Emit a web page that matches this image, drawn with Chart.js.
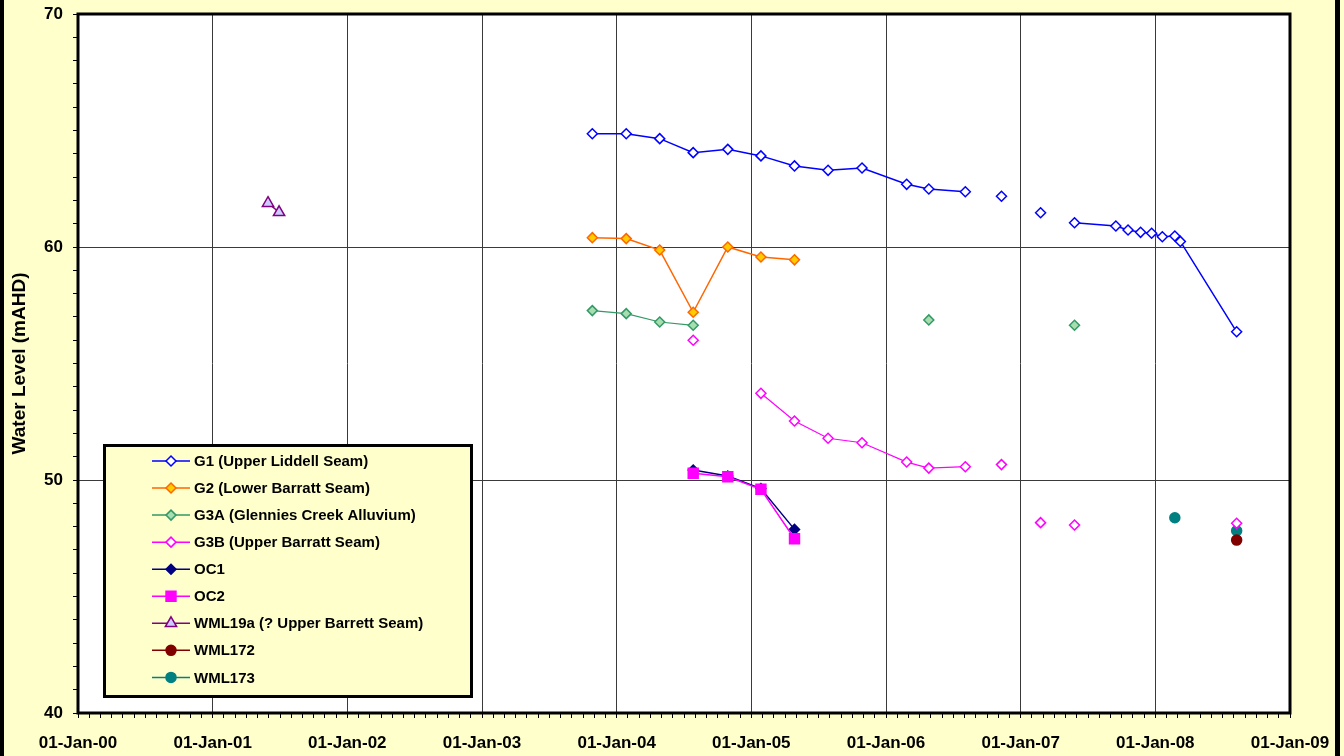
<!DOCTYPE html>
<html>
<head>
<meta charset="utf-8">
<script src="https://cdn.jsdelivr.net/npm/chart.js@4.4.0/dist/chart.umd.min.js"></script>
<style>
  html, body { margin: 0; padding: 0; background: #FFFFCC; }
  #wrap { width: 1344px; height: 756px; position: relative; }
</style>
</head>
<body>
<div id="wrap"><canvas id="levelChart" width="1344" height="756"></canvas></div>
<script>
// sample dates (null = break in the line) and water levels, mAHD
const g1Dates = ['2003-10-27', '2004-01-27', '2004-04-27', '2004-07-27', '2004-10-29', '2005-01-27',
    '2005-04-28', '2005-07-28', '2005-10-28', '2006-02-26', '2006-04-27', '2006-08-04', null,
    '2006-11-10', null, '2007-02-24', null, '2007-05-27', '2007-09-16', '2007-10-19', '2007-11-22',
    '2007-12-22', '2008-01-20', '2008-02-23', '2008-03-09', '2008-08-09'];
const g1Levels = [64.86, 64.86, 64.65, 64.05, 64.19, 63.91, 63.48, 63.29, 63.39, 62.69, 62.49, 62.37, null,
    62.18, null, 61.47, null, 61.04, 60.90, 60.73, 60.63, 60.59, 60.44, 60.47, 60.24, 56.36];

const g2Dates = ['2003-10-27', '2004-01-27', '2004-04-27', '2004-07-27', '2004-10-29', '2005-01-27', '2005-04-28'];
const g2Levels = [60.40, 60.36, 59.87, 57.20, 60.00, 59.57, 59.45];

const g3aDates = ['2003-10-27', '2004-01-27', '2004-04-27', '2004-07-27', null, '2006-04-27', null, '2007-05-27'];
const g3aLevels = [57.27, 57.14, 56.78, 56.64, null, 56.87, null, 56.64];

const g3bDates = ['2004-07-27', null, '2005-01-27', '2005-04-28', '2005-07-28', '2005-10-28', '2006-02-26',
    '2006-04-27', '2006-08-04', null, '2006-11-10', null, '2007-02-24', null, '2007-05-27', null, '2008-08-09'];
const g3bLevels = [56.00, null, 53.72, 52.53, 51.79, 51.60, 50.77, 50.51, 50.57, null, 50.66, null, 48.17,
    null, 48.07, null, 48.14];

const oc1Dates = ['2004-07-27', '2004-10-29', '2005-01-27', '2005-04-28'];
const oc1Levels = [50.43, 50.17, 49.63, 47.88];

const oc2Dates = ['2004-07-27', '2004-10-29', '2005-01-27', '2005-04-28'];
const oc2Levels = [50.29, 50.14, 49.60, 47.48];

const wml19aDates = ['2001-05-31', '2001-06-30'];
const wml19aLevels = [61.88, 61.49];

const wml172Dates = ['2008-08-09'];
const wml172Levels = [47.42];

const wml173Dates = ['2008-02-23', null, '2008-08-09'];
const wml173Levels = [48.38, null, 47.82];

const yearTicks = [2000, 2001, 2002, 2003, 2004, 2005, 2006, 2007, 2008, 2009];
const levelTicks = [40, 50, 60, 70];

const FONT = "'Liberation Sans', Arial, sans-serif";
Chart.defaults.font.family = FONT;
Chart.defaults.color = '#000';

// date string -> decimal year
function toYear(d) {
    if (d === null) return null;
    const [y, m, day] = d.split('-').map(Number);
    const start = Date.UTC(y, 0, 1), end = Date.UTC(y + 1, 0, 1);
    return y + (Date.UTC(y, m - 1, day) - start) / (end - start);
}
function points(dates, levels) {
    return dates.map((d, i) => ({ x: toYear(d), y: levels[i] }));
}

function series(label, dates, levels, colour, fill, style, radius, extra) {
    return Object.assign({
        label: label,
        data: points(dates, levels),
        borderColor: colour,
        backgroundColor: fill,
        borderWidth: 1.5,
        pointStyle: style,
        pointRadius: radius,
        pointBorderWidth: 1.5,
        pointBorderColor: colour,
        pointBackgroundColor: fill,
        spanGaps: false,
        tension: 0
    }, extra || {});
}

// monthly minor ticks on x, unit minor ticks on y
const monthTicks = [];
for (let i = 0; i <= (yearTicks[yearTicks.length - 1] - yearTicks[0]) * 12; i++) {
    monthTicks.push(yearTicks[0] + i / 12);
}
const unitTicks = [];
for (let v = levelTicks[0]; v <= levelTicks[levelTicks.length - 1]; v++) unitTicks.push(v);

const isYear = v => Math.abs(v - Math.round(v)) < 1e-6 && yearTicks.includes(Math.round(v));
const isLevel = v => levelTicks.includes(Math.round(v)) && Math.abs(v - Math.round(v)) < 1e-6;

const gridColour = '#3a3a3a';

const framePlugin = {
    id: 'frame',
    beforeDraw(chart) {
        const ctx = chart.ctx, a = chart.chartArea;
        ctx.save();
        ctx.fillStyle = '#FFFFCC';
        ctx.fillRect(0, 0, chart.width, chart.height);
        ctx.fillStyle = '#FFFFFF';
        ctx.fillRect(a.left, a.top, a.right - a.left, a.bottom - a.top);
        ctx.restore();
    },
    afterDraw(chart) {
        const ctx = chart.ctx, a = chart.chartArea;
        ctx.save();
        ctx.strokeStyle = '#000';
        ctx.lineWidth = 3;
        ctx.strokeRect(a.left, a.top, a.right - a.left, a.bottom - a.top);
        ctx.fillStyle = '#000';
        ctx.fillRect(0, 0, 4, chart.height);
        ctx.fillRect(1335, 0, 5, chart.height);

        // legend box
        const box = { x: 104.5, y: 445.5, w: 367, h: 251 };
        ctx.fillStyle = '#FFFFCC';
        ctx.fillRect(box.x, box.y, box.w, box.h);
        ctx.lineWidth = 3;
        ctx.strokeRect(box.x, box.y, box.w, box.h);

        chart.data.datasets.forEach((ds, i) => {
            const y = 461 + i * 27.05;
            ctx.strokeStyle = ds.borderColor;
            ctx.lineWidth = 1.5;
            ctx.beginPath();
            ctx.moveTo(152, y);
            ctx.lineTo(190, y);
            ctx.stroke();
            ctx.fillStyle = ds.pointBackgroundColor;
            ctx.strokeStyle = ds.pointBorderColor;
            ctx.lineWidth = ds.pointBorderWidth;
            Chart.helpers.drawPoint(ctx, {
                pointStyle: ds.pointStyle, radius: ds.pointRadius, rotation: 0,
                borderWidth: ds.pointBorderWidth
            }, 171, y);
            ctx.fillStyle = '#000';
            ctx.font = 'bold 15px ' + FONT;
            ctx.textBaseline = 'middle';
            ctx.textAlign = 'left';
            ctx.fillText(ds.label, 194, y + 1);
        });
        ctx.restore();
    }
};

new Chart(document.getElementById('levelChart').getContext('2d'), {
    type: 'line',
    data: {
        datasets: [
            series('G1 (Upper Liddell Seam)', g1Dates, g1Levels, '#0000FF', '#FFFFFF', 'rectRot', 5),
            series('G2 (Lower Barratt Seam)', g2Dates, g2Levels, '#FF6600', '#FFCC00', 'rectRot', 5),
            series('G3A (Glennies Creek Alluvium)', g3aDates, g3aLevels, '#339966', '#A8DDB0', 'rectRot', 5, { borderWidth: 1.2 }),
            series('G3B (Upper Barratt Seam)', g3bDates, g3bLevels, '#FF00FF', '#FFFFFF', 'rectRot', 5, { borderWidth: 1.2 }),
            series('OC1', oc1Dates, oc1Levels, '#000080', '#000080', 'rectRot', 5, { order: 1 }),
            series('OC2', oc2Dates, oc2Levels, '#FF00FF', '#FF00FF', 'rect', 7),
            series('WML19a (? Upper Barrett Seam)', wml19aDates, wml19aLevels, '#800080', '#CCCCFF', 'triangle', 6.5),
            series('WML172', wml172Dates, wml172Levels, '#800000', '#800000', 'circle', 5),
            series('WML173', wml173Dates, wml173Levels, '#008080', '#008080', 'circle', 5)
        ]
    },
    options: {
        responsive: false,
        animation: false,
        layout: { padding: { left: 0, top: 14, right: 54, bottom: 0 } },
        plugins: {
            legend: { display: false },
            tooltip: { enabled: false }
        },
        scales: {
            x: {
                type: 'linear',
                min: yearTicks[0],
                max: yearTicks[yearTicks.length - 1],
                afterBuildTicks: s => { s.ticks = monthTicks.map(v => ({ value: v })); },
                afterFit: s => { s.height = 43; s.paddingLeft = 0; s.paddingRight = 0; },
                border: { display: false },
                grid: {
                    color: c => (c.tick && isYear(c.tick.value)) ? gridColour : 'rgba(0,0,0,0)',
                    tickColor: '#000',
                    tickLength: 5,
                    lineWidth: 1
                },
                ticks: {
                    autoSkip: false,
                    maxRotation: 0,
                    padding: 15,
                    font: { size: 17, weight: 'bold' },
                    callback: v => isYear(v) ? '01-Jan-' + String(Math.round(v)).slice(2) : ''
                }
            },
            y: {
                type: 'linear',
                min: levelTicks[0],
                max: levelTicks[levelTicks.length - 1],
                afterBuildTicks: s => { s.ticks = unitTicks.map(v => ({ value: v })); },
                afterFit: s => { s.width = 78; s.paddingTop = 0; s.paddingBottom = 0; },
                border: { display: false },
                grid: {
                    color: c => (c.tick && isLevel(c.tick.value)) ? gridColour : 'rgba(0,0,0,0)',
                    tickColor: '#000',
                    tickLength: 5,
                    lineWidth: 1
                },
                ticks: {
                    autoSkip: false,
                    padding: 10,
                    font: { size: 17, weight: 'bold' },
                    callback: v => isLevel(v) ? String(Math.round(v)) : ''
                },
                title: {
                    display: true,
                    text: 'Water Level (mAHD)',
                    font: { size: 19, weight: 'bold' },
                    padding: { top: 8, bottom: 0 }
                }
            }
        }
    },
    plugins: [framePlugin]
});
</script>
</body>
</html>
